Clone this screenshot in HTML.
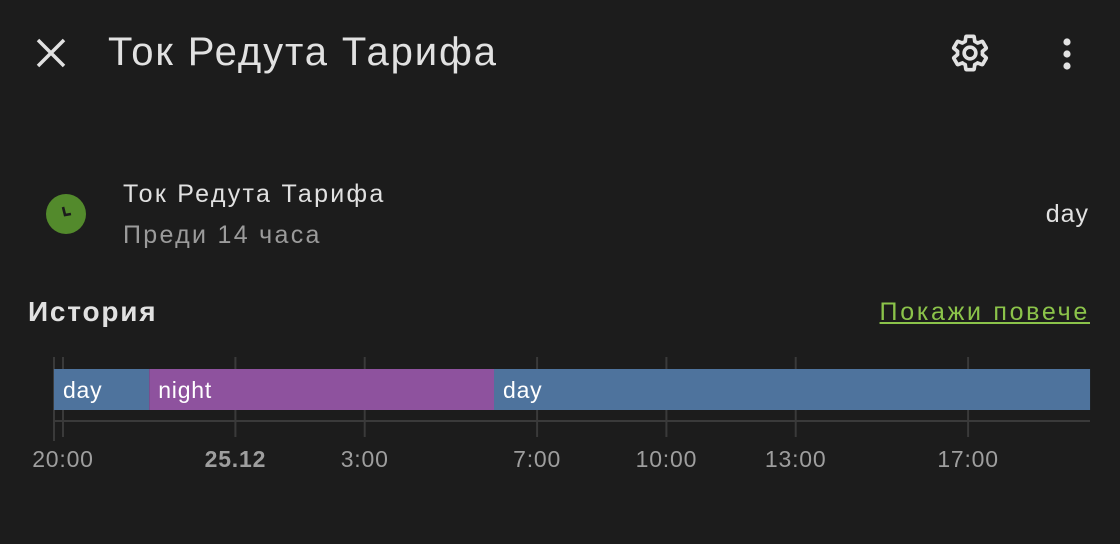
<!DOCTYPE html>
<html><head><meta charset="utf-8"><style>
body{margin:0;width:1120px;height:544px;background:#1c1c1c;font-family:"Liberation Sans",sans-serif;color:#e1e1e1;position:relative;overflow:hidden}
.a{position:absolute}
</style></head><body>
<div class="a" style="left:30px;top:32px;width:42px;height:42px">
<svg width="42" height="42"><path d="M8 8L34 34M34 8L8 34" stroke="#e1e1e1" stroke-width="3.5"/></svg></div>
<div class="a" style="left:108px;top:30px;font-size:40px;letter-spacing:1.9px;color:#e1e1e1">Ток Редута Тарифа</div>
<div class="a" style="left:950px;top:33px">
<svg width="40" height="40" viewBox="0 0 24 24"><path fill="none" stroke="#e1e1e1" stroke-width="2.2" stroke-linejoin="round" d="M12,15.5A3.5,3.5 0 0,1 8.5,12A3.5,3.5 0 0,1 12,8.5A3.5,3.5 0 0,1 15.5,12A3.5,3.5 0 0,1 12,15.5M19.43,12.97C19.47,12.65 19.5,12.33 19.5,12C19.5,11.67 19.47,11.34 19.43,11L21.54,9.37C21.73,9.22 21.78,8.95 21.66,8.73L19.66,5.27C19.54,5.05 19.27,4.96 19.05,5.05L16.56,6.050C16.04,5.66 15.5,5.32 14.87,5.07L14.5,2.42C14.46,2.18 14.25,2 14,2H10C9.75,2 9.54,2.18 9.5,2.42L9.13,5.07C8.5,5.32 7.96,5.66 7.44,6.05L4.95,5.05C4.73,4.96 4.46,5.05 4.34,5.27L2.34,8.73C2.21,8.95 2.27,9.22 2.46,9.37L4.57,11C4.53,11.34 4.5,11.67 4.5,12C4.5,12.33 4.53,12.65 4.57,12.97L2.46,14.63C2.27,14.78 2.21,15.05 2.34,15.27L4.34,18.73C4.46,18.95 4.73,19.03 4.95,18.95L7.44,17.94C7.96,18.34 8.5,18.68 9.13,18.93L9.5,21.58C9.54,21.82 9.75,22 10,22H14C14.25,22 14.46,21.82 14.5,21.58L14.87,18.93C15.5,18.67 16.04,18.34 16.56,17.94L19.05,18.95C19.27,19.03 19.54,18.95 19.66,18.73L21.66,15.27C21.78,15.05 21.73,14.78 21.54,14.63L19.43,12.97Z"/></svg></div>
<div class="a" style="left:1060px;top:38px">
<svg width="14" height="34"><circle cx="7" cy="4" r="3.6" fill="#e1e1e1"/><circle cx="7" cy="16" r="3.6" fill="#e1e1e1"/><circle cx="7" cy="28" r="3.6" fill="#e1e1e1"/></svg></div>
<div class="a" style="left:46px;top:194px">
<svg width="40" height="40"><circle cx="20" cy="20" r="20" fill="#538a2c"/><path d="M17 13L19 21L25 20" stroke="#1c1c1c" stroke-width="2.6" fill="none"/></svg></div>
<div class="a" style="left:123px;top:180px;font-size:25px;letter-spacing:2.3px;color:#e1e1e1">Ток Редута Тарифа</div>
<div class="a" style="left:123px;top:221px;font-size:25px;letter-spacing:2.3px;color:#9b9b9b">Преди 14 часа</div>
<div class="a" style="right:31px;top:200px;font-size:25px;letter-spacing:1px;color:#e1e1e1">day</div>
<div class="a" style="left:28px;top:296px;font-size:28px;font-weight:bold;letter-spacing:1.8px;color:#e1e1e1">История</div>
<div class="a" style="right:30px;top:298px;font-size:25px;letter-spacing:2.7px;color:#8bc34a;text-decoration:underline">Покажи повече</div>
<svg class="a" style="left:0;top:0" width="1120" height="544" id="tl"></svg>
<script>
const tickHours=[0,4,7,11,14,17,21];
const tickLabels=["20:00","25.12","3:00","7:00","10:00","13:00","17:00"];
const segStates=["day","night","day"];
const segStart=[-0.21,2,10];
const segEnd=[2,10,23.83];
const colors={day:"#4e739d",night:"#8e529e"};
const svg=document.getElementById('tl');
const NS="http://www.w3.org/2000/svg";
const x=h=>63+h*43.1;
function mk(t,a){const e=document.createElementNS(NS,t);for(const k in a)e.setAttribute(k,a[k]);svg.appendChild(e);return e;}
tickHours.forEach((h,i)=>{
 const l=mk('line',{x1:x(h),x2:x(h),y1:357,y2:437,stroke:'#3a3a3a','stroke-width':2});
 
 
 const t=mk('text',{x:x(h),y:467,'text-anchor':'middle','font-size':23,'letter-spacing':'0.8',fill:'#9e9e9e','font-family':'Liberation Sans, sans-serif','font-weight':i==1?'bold':'normal'});
 t.textContent=tickLabels[i];
 
 
});
const ax=mk('line',{x1:54,x2:1090,y1:421,y2:421,stroke:'#3a3a3a','stroke-width':2});


const ay=mk('line',{x1:54,x2:54,y1:357,y2:441,stroke:'#3a3a3a','stroke-width':2});


segStates.forEach((s,i)=>{
 const r=mk('rect',{x:x(segStart[i]),y:369,width:x(segEnd[i])-x(segStart[i]),height:41,fill:colors[s]});
 
 
 const t=mk('text',{x:x(segStart[i])+9,y:398,'font-size':23,'letter-spacing':'0.8',fill:'#ffffff','font-family':'Liberation Sans, sans-serif'});
 t.textContent=s;
 
 
});
</script>
</body></html>
